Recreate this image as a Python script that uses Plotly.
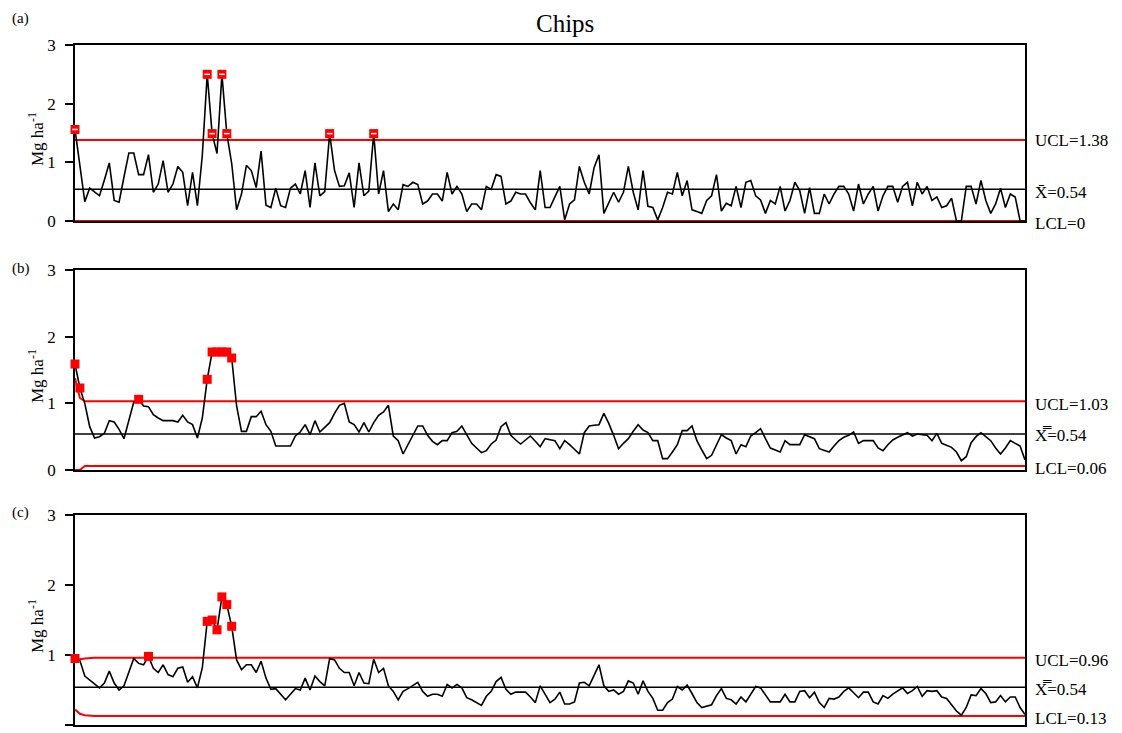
import plotly.graph_objects as go

# ---------------- data ----------------
N = 195
obs = list(range(N))

# (a) individual values, Mg ha-1
A = [1.56,0.95,0.33,0.56,0.50,0.43,0.70,0.99,0.35,0.32,
     0.75,1.16,1.16,0.79,0.79,1.13,0.49,0.63,1.03,0.49,
     0.63,0.93,0.83,0.26,0.83,0.26,1.12,2.50,1.49,1.15,
     2.50,1.49,0.98,0.19,0.46,0.95,0.86,0.57,1.19,0.27,
     0.23,0.56,0.26,0.23,0.56,0.63,0.46,0.86,0.23,0.99,
     0.43,0.50,1.49,0.86,0.59,0.60,0.82,0.23,0.99,0.43,
     0.51,1.49,0.46,0.86,0.16,0.29,0.19,0.62,0.59,0.66,
     0.62,0.29,0.34,0.46,0.46,0.34,0.83,0.46,0.59,0.46,
     0.16,0.29,0.29,0.19,0.59,0.54,0.79,0.76,0.29,0.34,
     0.49,0.46,0.46,0.31,0.19,0.86,0.23,0.23,0.41,0.59,
     0.02,0.29,0.36,0.93,0.66,0.46,0.91,1.13,0.13,0.32,
     0.49,0.32,0.49,0.93,0.49,0.19,0.86,0.25,0.23,0.02,
     0.23,0.49,0.46,0.83,0.43,0.69,0.19,0.16,0.13,0.35,
     0.43,0.79,0.17,0.30,0.26,0.59,0.23,0.66,0.69,0.43,
     0.36,0.13,0.35,0.29,0.59,0.17,0.35,0.66,0.52,0.13,
     0.57,0.13,0.13,0.46,0.29,0.46,0.59,0.59,0.46,0.17,
     0.63,0.29,0.46,0.59,0.17,0.43,0.59,0.59,0.32,0.59,
     0.66,0.26,0.66,0.46,0.59,0.35,0.41,0.23,0.26,0.39,
     0.00,0.00,0.59,0.59,0.29,0.69,0.35,0.13,0.29,0.56,
     0.23,0.46,0.41,0.00,0.00]

# (b) moving-average chart values
B = [1.59,1.23,1.00,0.65,0.48,0.50,0.55,0.74,0.72,0.61,
     0.47,0.76,1.02,1.06,0.96,0.95,0.83,0.78,0.74,0.74,
     0.74,0.72,0.82,0.72,0.68,0.48,0.78,1.36,1.77,1.77,
     1.77,1.77,1.68,0.96,0.58,0.58,0.80,0.80,0.88,0.68,
     0.58,0.36,0.36,0.36,0.36,0.51,0.57,0.68,0.53,0.74,
     0.57,0.64,0.71,0.85,0.97,1.00,0.72,0.68,0.57,0.71,
     0.57,0.71,0.82,0.87,0.97,0.51,0.44,0.24,0.38,0.51,
     0.66,0.66,0.52,0.43,0.38,0.44,0.44,0.56,0.58,0.66,
     0.53,0.40,0.33,0.26,0.29,0.39,0.45,0.65,0.71,0.52,
     0.45,0.39,0.45,0.51,0.43,0.35,0.47,0.45,0.44,0.32,
     0.44,0.38,0.31,0.24,0.56,0.66,0.67,0.68,0.85,0.70,
     0.52,0.32,0.40,0.47,0.58,0.68,0.60,0.56,0.44,0.44,
     0.17,0.17,0.27,0.38,0.59,0.59,0.66,0.44,0.30,0.17,
     0.22,0.38,0.53,0.48,0.44,0.24,0.38,0.35,0.51,0.56,
     0.62,0.47,0.33,0.30,0.27,0.44,0.38,0.38,0.38,0.53,
     0.50,0.47,0.32,0.29,0.27,0.36,0.44,0.49,0.52,0.57,
     0.40,0.44,0.44,0.44,0.33,0.29,0.38,0.45,0.49,0.52,
     0.56,0.51,0.54,0.53,0.52,0.44,0.55,0.40,0.37,0.34,
     0.27,0.14,0.20,0.41,0.50,0.56,0.50,0.44,0.33,0.24,
     0.33,0.44,0.40,0.36,0.15]

# (c) EWMA chart values
C = [0.95,0.92,0.70,0.64,0.58,0.53,0.60,0.77,0.60,0.50,
     0.56,0.77,0.95,0.88,0.86,0.98,0.81,0.75,0.86,0.72,
     0.69,0.81,0.83,0.61,0.69,0.53,0.82,1.48,1.50,1.36,
     1.83,1.72,1.41,0.93,0.79,0.86,0.86,0.75,0.91,0.67,
     0.51,0.52,0.44,0.36,0.44,0.52,0.50,0.67,0.50,0.70,
     0.62,0.56,0.95,0.93,0.81,0.75,0.75,0.56,0.75,0.60,
     0.59,0.94,0.75,0.81,0.56,0.48,0.36,0.48,0.52,0.57,
     0.61,0.48,0.41,0.44,0.44,0.41,0.58,0.53,0.58,0.53,
     0.39,0.36,0.32,0.28,0.41,0.48,0.62,0.68,0.51,0.44,
     0.47,0.47,0.47,0.40,0.32,0.56,0.44,0.32,0.37,0.47,
     0.30,0.30,0.33,0.60,0.61,0.56,0.71,0.86,0.56,0.48,
     0.50,0.44,0.48,0.63,0.60,0.44,0.63,0.48,0.38,0.21,
     0.21,0.32,0.37,0.55,0.50,0.57,0.45,0.32,0.25,0.27,
     0.29,0.42,0.52,0.38,0.36,0.30,0.40,0.33,0.44,0.55,
     0.53,0.43,0.33,0.33,0.33,0.44,0.33,0.33,0.48,0.49,
     0.39,0.47,0.32,0.25,0.38,0.37,0.40,0.48,0.53,0.46,
     0.39,0.47,0.47,0.33,0.30,0.42,0.38,0.44,0.49,0.53,
     0.45,0.49,0.55,0.41,0.49,0.48,0.49,0.40,0.38,0.29,
     0.20,0.14,0.25,0.43,0.42,0.52,0.45,0.32,0.33,0.42,
     0.33,0.40,0.40,0.25,0.15]

CENTER = 0.54
UCL_A = [1.38] * N
LCL_A = [0.0] * N
UCL_B = [1.38, 1.08] + [1.03] * (N - 2)
LCL_B = [0.0, 0.0] + [0.06] * (N - 2)
UCL_C = [0.90, 0.94, 0.95] + [0.96] * (N - 3)
LCL_C = [0.22, 0.16, 0.14] + [0.13] * (N - 3)

Y_TICKS = [0, 1, 2, 3]
PANEL_TAGS = ["(a)", "(b)", "(c)"]
UCL_TEXT = ["UCL=1.38", "UCL=1.03", "UCL=0.96"]
CL_TEXT = ["X\u0304=0.54", "X\u033F=0.54", "X\u033F=0.54"]
LCL_TEXT = ["LCL=0", "LCL=0.06", "LCL=0.13"]
Y_TITLE = "Mg ha<sup>-1</sup>"
TITLE = "Chips"

# ---------------- figure ----------------
WIN_W, WIN_H = 1122, 733
OFF = 8                      # the page body margin shifts the figure by 8 px
W, H = WIN_W - OFF, WIN_H - OFF
FONT = "Liberation Serif, Times New Roman, serif"
RED = "#ff0000"

def px(xp):
    return (xp - OFF) / W

def py(yp):
    return 1 - (yp - OFF) / H

# panel frames in window pixels (top, bottom) and panel-tag heights
frames = [(45, 221), (270, 470), (515, 725)]
tag_y = [18, 268, 512]
x_left, x_right = 75, 1025

series = [A, B, C]
ucls = [UCL_A, UCL_B, UCL_C]
lcls = [LCL_A, LCL_B, LCL_C]
label_shift = [(0, -3, -3), (-3, -2, -3), (-3, -2, -3)]

fig = go.Figure()
annotations = []

for k in range(3):
    xa = "x" if k == 0 else f"x{k+1}"
    ya = "y" if k == 0 else f"y{k+1}"
    vals, ucl, lcl = series[k], ucls[k], lcls[k]
    centre = [CENTER] * N

    fig.add_trace(go.Scatter(x=obs, y=ucl, mode="lines", xaxis=xa, yaxis=ya,
                             line=dict(color=RED, width=2), hoverinfo="skip"))
    fig.add_trace(go.Scatter(x=obs, y=lcl, mode="lines", xaxis=xa, yaxis=ya,
                             line=dict(color=RED, width=2), hoverinfo="skip"))
    fig.add_trace(go.Scatter(x=obs, y=centre, mode="lines", xaxis=xa, yaxis=ya,
                             line=dict(color="black", width=1.5), hoverinfo="skip"))
    fig.add_trace(go.Scatter(x=obs, y=vals, mode="lines", xaxis=xa, yaxis=ya,
                             line=dict(color="black", width=1.6)))
    ox = [i for i in obs if vals[i] > ucl[i] or vals[i] < lcl[i]]
    oy = [vals[i] for i in ox]
    fig.add_trace(go.Scatter(x=ox, y=oy, mode="markers", xaxis=xa, yaxis=ya,
                             cliponaxis=False,
                             marker=dict(symbol="square", size=9, color=RED,
                                         line=dict(width=0))))
    if k == 0:
        fig.add_trace(go.Scatter(x=ox, y=oy, mode="markers", xaxis=xa, yaxis=ya,
                                 cliponaxis=False,
                                 marker=dict(symbol="line-ew", size=4,
                                             line=dict(color="white", width=1.5))))

    top, bot = frames[k]
    common_axis = dict(showline=True, linecolor="black", linewidth=1.5, mirror=True,
                       showgrid=False, zeroline=False, layer="below traces",
                       automargin=False)
    fig.layout[("xaxis" if k == 0 else f"xaxis{k+1}")] = dict(
        domain=[px(x_left), px(x_right)], anchor=ya, range=[0, N - 1],
        showticklabels=False, ticks="", **common_axis)
    fig.layout[("yaxis" if k == 0 else f"yaxis{k+1}")] = dict(
        domain=[py(bot), py(top)], anchor=xa, range=[0, 3],
        tickvals=Y_TICKS, ticktext=[str(t) for t in Y_TICKS],
        ticks="outside", ticklen=8, tickwidth=1.5, tickcolor="black",
        ticklabelstandoff=6,
        tickfont=dict(family=FONT, size=17, color="black"), **common_axis)

    s_u, s_c, s_l = label_shift[k]
    for txt, yv, sh in [(UCL_TEXT[k], ucl[-1], s_u), (CL_TEXT[k], CENTER, s_c),
                        (LCL_TEXT[k], lcl[-1], s_l)]:
        annotations.append(dict(text=txt, xref="paper", yref=ya, x=px(1033), y=yv,
                                xanchor="left", yanchor="middle", yshift=sh,
                                showarrow=False,
                                font=dict(family=FONT, size=17, color="black")))
    annotations.append(dict(text=PANEL_TAGS[k], xref="paper", yref="paper",
                            x=px(10), y=py(tag_y[k]), xanchor="left", yanchor="middle",
                            showarrow=False, font=dict(family=FONT, size=15, color="black")))
    annotations.append(dict(text=Y_TITLE, xref="paper", yref="paper",
                            x=px(36), y=py((top + bot) / 2 + 6), textangle=-90,
                            xanchor="center", yanchor="middle", showarrow=False,
                            font=dict(family=FONT, size=17, color="black")))

annotations.append(dict(text=TITLE, xref="paper", yref="paper", x=px(565), y=py(23),
                        xanchor="center", yanchor="middle", showarrow=False,
                        font=dict(family=FONT, size=25, color="black")))

fig.update_layout(width=W, height=H, margin=dict(l=0, r=0, t=0, b=0),
                  paper_bgcolor="white", plot_bgcolor="white", showlegend=False,
                  annotations=annotations, template="none")

fig.write_html("out.html")
